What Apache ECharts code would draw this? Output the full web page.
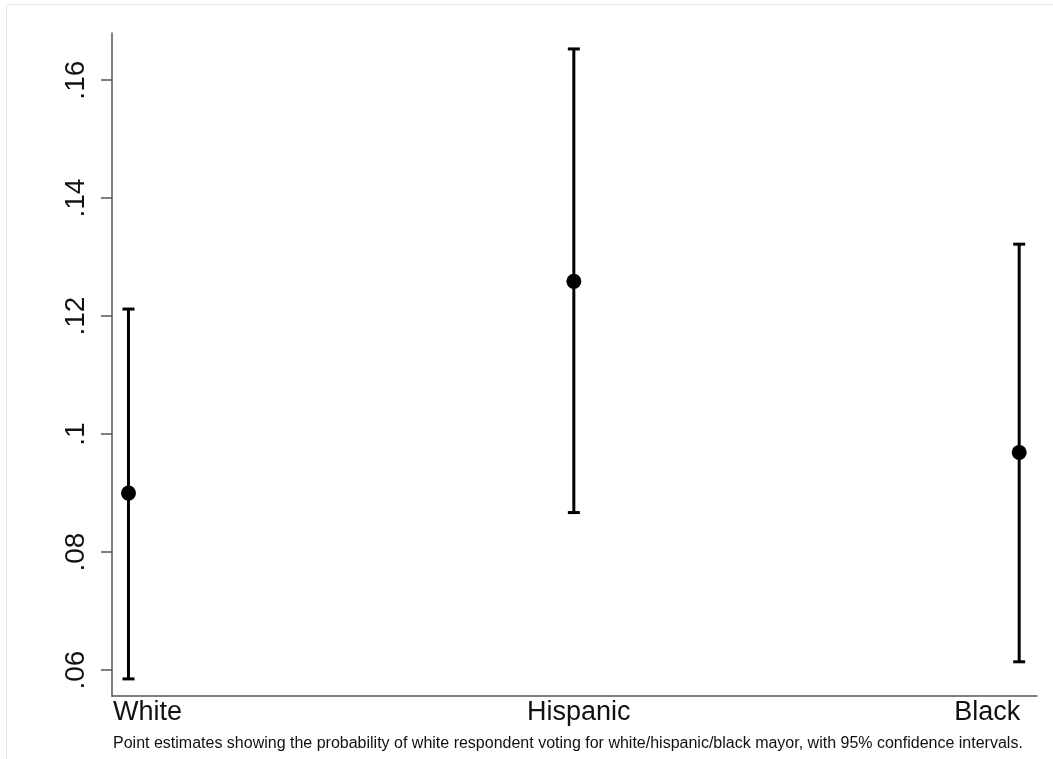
<!DOCTYPE html>
<html>
<head>
<meta charset="utf-8">
<title>Mayor vote probability</title>
<script src="https://cdn.jsdelivr.net/npm/echarts@6/dist/echarts.min.js"></script>
<style>
  html, body { margin: 0; padding: 0; background: #fff; }
  #chart { width: 1053px; height: 759px; position: relative; }
  #frame { position: absolute; left: 6px; top: 4px; right: 0; bottom: 0;
           border-left: 1px solid #e2eaee; border-top: 1px solid #e2eaee; pointer-events: none; }
</style>
</head>
<body>
<div id="chart"></div>
<div id="frame"></div>
<script>
// Candidate race categories (x positions 1..3)
const categories = ['White', 'Hispanic', 'Black'];
// Point estimates and 95% confidence bounds
const estimates = [0.0900, 0.1259, 0.0969];
const lowerCI   = [0.0585, 0.0867, 0.0614];
const upperCI   = [0.1212, 0.1653, 0.1322];
// Y-axis ticks and their labels
const yTicks      = [0.06, 0.08, 0.10, 0.12, 0.14, 0.16];
const yTickLabels = ['.06', '.08', '.1', '.12', '.14', '.16'];

const FONT = '"Liberation Sans", Arial, Helvetica, sans-serif';

const ciData = categories.map((c, i) => [i + 1, lowerCI[i], upperCI[i]]);
const pointData = categories.map((c, i) => [i + 1, estimates[i]]);

const chart = echarts.init(document.getElementById('chart'), null, { renderer: 'canvas' });

chart.setOption({
  animation: false,
  backgroundColor: 'transparent',
  textStyle: { fontFamily: FONT },
  title: {
    text: 'Point estimates showing the probability of white respondent voting for white/hispanic/black mayor, with 95% confidence intervals.',
    left: 108,
    top: 731,
    textStyle: { fontFamily: FONT, fontSize: 16, fontWeight: 'normal', color: '#111' }
  },
  grid: { left: 112, right: 16, top: 33, bottom: 63, containLabel: false },
  xAxis: {
    type: 'value',
    min: 0.963,
    max: 3.040,
    splitLine: { show: false },
    axisLine: { show: true, onZero: false, lineStyle: { color: '#555', width: 1.5 } },
    axisTick: { show: false },
    axisLabel: {
      customValues: [1, 2, 3],
      margin: 3,
      color: '#111',
      fontFamily: FONT,
      fontSize: 27,
      formatter: function (v) {
        const i = Math.round(v) - 1;
        const key = ['w', 'h', 'b'][i];
        return '{' + key + '|' + categories[i] + '}';
      },
      rich: {
        w: { fontFamily: FONT, fontSize: 27, color: '#111', width: 31, align: 'left' },
        h: { fontFamily: FONT, fontSize: 27, color: '#111', padding: [0, 0, 0, 10] },
        b: { fontFamily: FONT, fontSize: 27, color: '#111', width: 2, align: 'right' }
      }
    }
  },
  yAxis: {
    type: 'value',
    min: 0.0556,
    max: 0.1680,
    splitLine: { show: false },
    axisLine: { show: true, lineStyle: { color: '#555', width: 1.5 } },
    axisTick: { show: true, customValues: yTicks, length: 11, lineStyle: { color: '#555', width: 1.5 } },
    axisLabel: {
      customValues: yTicks,
      rotate: 90,
      margin: 22,
      color: '#111',
      fontFamily: FONT,
      fontSize: 28,
      formatter: function (v) {
        const i = yTicks.findIndex(t => Math.abs(t - v) < 1e-9);
        return i >= 0 ? yTickLabels[i] : '';
      }
    }
  },
  series: [
    {
      type: 'custom',
      name: '95% CI',
      data: ciData,
      renderItem: function (params, api) {
        const x = api.value(0);
        const lo = api.coord([x, api.value(1)]);
        const hi = api.coord([x, api.value(2)]);
        const half = 6;
        const style = { stroke: '#000', lineWidth: 3 };
        return {
          type: 'group',
          children: [
            { type: 'line', shape: { x1: lo[0], y1: lo[1], x2: hi[0], y2: hi[1] }, style: style },
            { type: 'line', shape: { x1: hi[0] - half, y1: hi[1], x2: hi[0] + half, y2: hi[1] }, style: style },
            { type: 'line', shape: { x1: lo[0] - half, y1: lo[1], x2: lo[0] + half, y2: lo[1] }, style: style }
          ]
        };
      },
      z: 2
    },
    {
      type: 'scatter',
      name: 'Estimate',
      data: pointData,
      symbol: 'circle',
      symbolSize: 15,
      itemStyle: { color: '#000', opacity: 1 },
      z: 3
    }
  ]
});
</script>
</body>
</html>
